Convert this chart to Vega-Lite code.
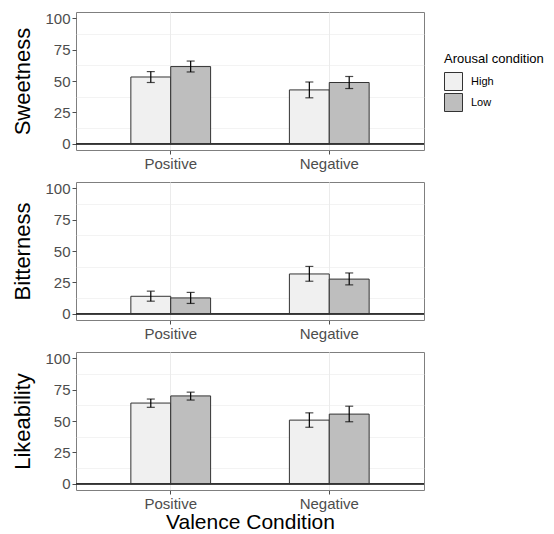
{
  "$schema": "https://vega.github.io/schema/vega-lite/v6.json",
  "padding": {"left": 11, "top": 10, "right": 5, "bottom": 0},
  "background": "white",
  "config": {
    "font": "Liberation Sans",
    "view": {"stroke": "#7f7f7f", "strokeWidth": 1},
    "axis": {"domain": false, "labelColor": "#4d4d4d", "labelFontSize": 15, "tickColor": "#4d4d4d", "tickSize": 4, "labelPadding": 2, "titleColor": "black", "titleFontWeight": "normal", "gridColor": "#ebebeb"},
    "axisY": {"titleFontSize": 22, "titlePadding": 10, "gridWidth": 1.1},
    "legend": {"titleFontWeight": "normal", "titleFontSize": 13, "titleColor": "black", "labelFontSize": 11, "labelColor": "black"}
  },
  "data": {"values": [
    {"measure": "Sweetness", "valence": "Positive", "arousal": "High", "mean": 53.2, "lo": 48.8, "hi": 57.5},
    {"measure": "Sweetness", "valence": "Positive", "arousal": "Low", "mean": 61.5, "lo": 57.2, "hi": 65.9},
    {"measure": "Sweetness", "valence": "Negative", "arousal": "High", "mean": 42.9, "lo": 36.6, "hi": 49.2},
    {"measure": "Sweetness", "valence": "Negative", "arousal": "Low", "mean": 48.8, "lo": 44.0, "hi": 53.6},
    {"measure": "Bitterness", "valence": "Positive", "arousal": "High", "mean": 13.9, "lo": 10.0, "hi": 18.0},
    {"measure": "Bitterness", "valence": "Positive", "arousal": "Low", "mean": 12.6, "lo": 8.2, "hi": 17.0},
    {"measure": "Bitterness", "valence": "Negative", "arousal": "High", "mean": 31.7, "lo": 25.9, "hi": 37.7},
    {"measure": "Bitterness", "valence": "Negative", "arousal": "Low", "mean": 27.6, "lo": 23.0, "hi": 32.5},
    {"measure": "Likeability", "valence": "Positive", "arousal": "High", "mean": 64.3, "lo": 60.9, "hi": 67.5},
    {"measure": "Likeability", "valence": "Positive", "arousal": "Low", "mean": 70.0, "lo": 66.7, "hi": 73.0},
    {"measure": "Likeability", "valence": "Negative", "arousal": "High", "mean": 50.7, "lo": 45.0, "hi": 56.5},
    {"measure": "Likeability", "valence": "Negative", "arousal": "Low", "mean": 55.5, "lo": 49.4, "hi": 61.8}
  ]},
  "resolve": {"legend": {"fill": "independent"}},
  "spacing": 8,
  "vconcat": [
    {
      "width": 348, "height": 138,
      "transform": [{"filter": "datum.measure === 'Sweetness'"}],
      "resolve": {"axis": {"y": "independent"}},
      "encoding": {
        "x": {"field": "valence", "type": "nominal", "sort": ["Positive", "Negative"], "scale": {"paddingInner": 0.497, "paddingOuter": 0.346}, "axis": {"title": null, "labelAngle": 0, "grid": true, "gridColor": "#ebebeb"}},
        "xOffset": {"field": "arousal", "type": "nominal", "sort": ["High", "Low"], "scale": {"paddingInner": 0, "paddingOuter": 0}}
      },
      "layer": [
        {"mark": {"type": "rule", "color": "#333333", "strokeWidth": 1.2}, "encoding": {"y": {"datum": 0, "axis": {"orient": "right", "title": null, "values": [12.5, 37.5, 62.5, 87.5], "labels": false, "ticks": false, "domain": false, "grid": true, "gridWidth": 0.6, "gridColor": "#ebebeb"}}, "x": null, "xOffset": null}},
        {"mark": {"type": "bar", "stroke": "#333333", "strokeWidth": 1},
         "encoding": {
           "y": {"field": "mean", "type": "quantitative", "scale": {"domain": [-5, 105], "nice": false, "zero": false}, "axis": {"title": "Sweetness", "values": [0, 25, 50, 75, 100]}},
           "fill": {"field": "arousal", "type": "nominal", "sort": ["High", "Low"], "scale": {"domain": ["High", "Low"], "range": ["#f0f0f0", "#bebebe"]},
                    "legend": {"title": "Arousal condition", "orient": "none", "legendX": 368, "legendY": 41, "symbolType": "square", "symbolSize": 324, "symbolStrokeColor": "#333333", "symbolStrokeWidth": 1, "rowPadding": -5, "labelOffset": 8, "titlePadding": 6}}
         }},
        {"mark": {"type": "rule", "color": "black", "strokeWidth": 1.2}, "encoding": {"y": {"field": "lo", "type": "quantitative", "axis": null}, "y2": {"field": "hi"}}},
        {"mark": {"type": "tick", "color": "black", "size": 8, "thickness": 1.2}, "encoding": {"y": {"field": "lo", "type": "quantitative", "axis": null}}},
        {"mark": {"type": "tick", "color": "black", "size": 8, "thickness": 1.2}, "encoding": {"y": {"field": "hi", "type": "quantitative", "axis": null}}},
        {"mark": {"type": "rule", "color": "#333333", "strokeWidth": 1.2}, "encoding": {"y": {"datum": 0, "axis": null}, "x": null, "xOffset": null}}
      ]
    },
    {
      "width": 348, "height": 138,
      "transform": [{"filter": "datum.measure === 'Bitterness'"}],
      "resolve": {"axis": {"y": "independent"}},
      "encoding": {
        "x": {"field": "valence", "type": "nominal", "sort": ["Positive", "Negative"], "scale": {"paddingInner": 0.497, "paddingOuter": 0.346}, "axis": {"title": null, "labelAngle": 0, "grid": true, "gridColor": "#ebebeb"}},
        "xOffset": {"field": "arousal", "type": "nominal", "sort": ["High", "Low"], "scale": {"paddingInner": 0, "paddingOuter": 0}}
      },
      "layer": [
        {"mark": {"type": "rule", "color": "#333333", "strokeWidth": 1.2}, "encoding": {"y": {"datum": 0, "axis": {"orient": "right", "title": null, "values": [12.5, 37.5, 62.5, 87.5], "labels": false, "ticks": false, "domain": false, "grid": true, "gridWidth": 0.6, "gridColor": "#ebebeb"}}, "x": null, "xOffset": null}},
        {"mark": {"type": "bar", "stroke": "#333333", "strokeWidth": 1},
         "encoding": {
           "y": {"field": "mean", "type": "quantitative", "scale": {"domain": [-5, 105], "nice": false, "zero": false}, "axis": {"title": "Bitterness", "values": [0, 25, 50, 75, 100]}},
           "fill": {"field": "arousal", "type": "nominal", "sort": ["High", "Low"], "scale": {"domain": ["High", "Low"], "range": ["#f0f0f0", "#bebebe"]}, "legend": null}
         }},
        {"mark": {"type": "rule", "color": "black", "strokeWidth": 1.2}, "encoding": {"y": {"field": "lo", "type": "quantitative", "axis": null}, "y2": {"field": "hi"}}},
        {"mark": {"type": "tick", "color": "black", "size": 8, "thickness": 1.2}, "encoding": {"y": {"field": "lo", "type": "quantitative", "axis": null}}},
        {"mark": {"type": "tick", "color": "black", "size": 8, "thickness": 1.2}, "encoding": {"y": {"field": "hi", "type": "quantitative", "axis": null}}},
        {"mark": {"type": "rule", "color": "#333333", "strokeWidth": 1.2}, "encoding": {"y": {"datum": 0, "axis": null}, "x": null, "xOffset": null}}
      ]
    },
    {
      "width": 348, "height": 138,
      "transform": [{"filter": "datum.measure === 'Likeability'"}],
      "resolve": {"axis": {"y": "independent"}},
      "encoding": {
        "x": {"field": "valence", "type": "nominal", "sort": ["Positive", "Negative"], "scale": {"paddingInner": 0.497, "paddingOuter": 0.346}, "axis": {"title": "Valence Condition", "titleFontSize": 21, "titlePadding": 0, "labelAngle": 0, "grid": true, "gridColor": "#ebebeb"}},
        "xOffset": {"field": "arousal", "type": "nominal", "sort": ["High", "Low"], "scale": {"paddingInner": 0, "paddingOuter": 0}}
      },
      "layer": [
        {"mark": {"type": "rule", "color": "#333333", "strokeWidth": 1.2}, "encoding": {"y": {"datum": 0, "axis": {"orient": "right", "title": null, "values": [12.5, 37.5, 62.5, 87.5], "labels": false, "ticks": false, "domain": false, "grid": true, "gridWidth": 0.6, "gridColor": "#ebebeb"}}, "x": null, "xOffset": null}},
        {"mark": {"type": "bar", "stroke": "#333333", "strokeWidth": 1},
         "encoding": {
           "y": {"field": "mean", "type": "quantitative", "scale": {"domain": [-5, 105], "nice": false, "zero": false}, "axis": {"title": "Likeability", "values": [0, 25, 50, 75, 100]}},
           "fill": {"field": "arousal", "type": "nominal", "sort": ["High", "Low"], "scale": {"domain": ["High", "Low"], "range": ["#f0f0f0", "#bebebe"]}, "legend": null}
         }},
        {"mark": {"type": "rule", "color": "black", "strokeWidth": 1.2}, "encoding": {"y": {"field": "lo", "type": "quantitative", "axis": null}, "y2": {"field": "hi"}}},
        {"mark": {"type": "tick", "color": "black", "size": 8, "thickness": 1.2}, "encoding": {"y": {"field": "lo", "type": "quantitative", "axis": null}}},
        {"mark": {"type": "tick", "color": "black", "size": 8, "thickness": 1.2}, "encoding": {"y": {"field": "hi", "type": "quantitative", "axis": null}}},
        {"mark": {"type": "rule", "color": "#333333", "strokeWidth": 1.2}, "encoding": {"y": {"datum": 0, "axis": null}, "x": null, "xOffset": null}}
      ]
    }
  ]
}
